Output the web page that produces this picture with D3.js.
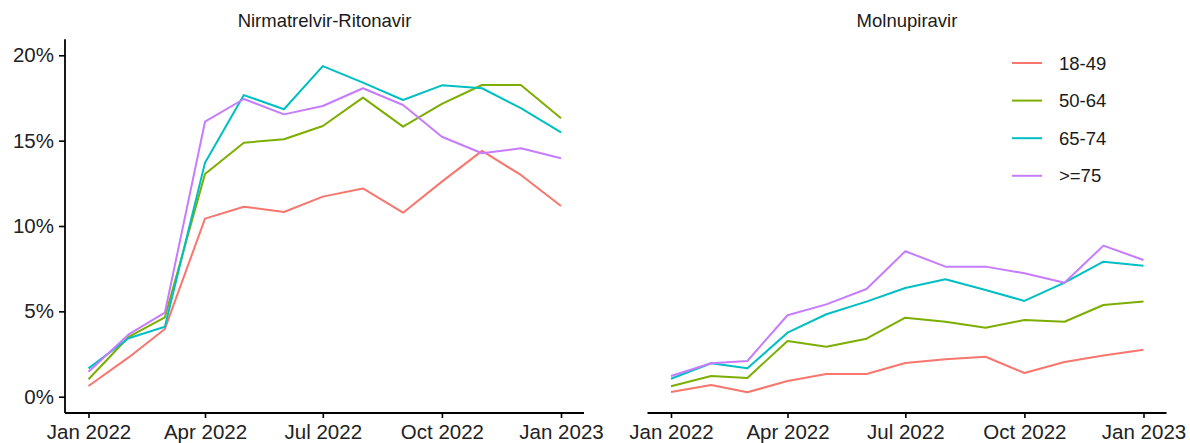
<!DOCTYPE html>
<html>
<head>
<meta charset="UTF-8">
<title>Antiviral use by age group</title>
<style>
body { margin: 0; background: #fff; }
#canvas { width: 1190px; height: 443px; }
.axis path, .axis line { stroke: #000; }
.axis text { fill: #222; font-family: "Liberation Sans", Arial, sans-serif; }
</style>
<script src="https://cdn.jsdelivr.net/npm/d3@7"></script>
</head>
<body>
<div id="canvas"></div>
<script>
// months (first of each month)
var months = ["2022-01-01","2022-02-01","2022-03-01","2022-04-01","2022-05-01","2022-06-01",
              "2022-07-01","2022-08-01","2022-09-01","2022-10-01","2022-11-01","2022-12-01","2023-01-01"];
var groups = ["18-49", "50-64", "65-74", ">=75"];
var colors = ["#F8766D", "#7CAE00", "#00BFC4", "#C77CFF"];
var panelTitles = ["Nirmatrelvir-Ritonavir", "Molnupiravir"];
var yTicks = [0, 5, 10, 15, 20];
var xTicks = ["2022-01-01", "2022-04-01", "2022-07-01", "2022-10-01", "2023-01-01"];

// percent of patients, Nirmatrelvir-Ritonavir
var nirm1849 = [0.63, 2.3, 3.97, 10.43, 11.13, 10.82, 11.72, 12.2, 10.78, 12.6, 14.4, 12.99, 11.17];
var nirm5064 = [1.02, 3.5, 4.65, 13.05, 14.88, 15.08, 15.86, 17.52, 15.82, 17.15, 18.26, 18.26, 16.31];
var nirm6574 = [1.66, 3.42, 4.1, 13.71, 17.67, 16.84, 19.37, 18.4, 17.38, 18.24, 18.07, 16.9, 15.49];
var nirm75 = [1.46, 3.65, 4.92, 16.11, 17.44, 16.54, 17.03, 18.07, 17.09, 15.23, 14.26, 14.55, 13.97];

// percent of patients, Molnupiravir
var moln1849 = [0.28, 0.69, 0.26, 0.92, 1.33, 1.33, 1.97, 2.19, 2.34, 1.39, 2.03, 2.42, 2.75];
var moln5064 = [0.61, 1.21, 1.1, 3.26, 2.93, 3.4, 4.63, 4.39, 4.04, 4.49, 4.39, 5.37, 5.57];
var moln6574 = [1.05, 1.96, 1.66, 3.75, 4.83, 5.57, 6.37, 6.88, 6.25, 5.61, 6.68, 7.91, 7.67];
var moln75 = [1.21, 1.96, 2.09, 4.77, 5.41, 6.31, 8.52, 7.62, 7.62, 7.23, 6.68, 8.85, 8.01];

var panels = [
  [nirm1849, nirm5064, nirm6574, nirm75],
  [moln1849, moln5064, moln6574, moln75]
];

var width = 1190, height = 443;
var panelWidth = 519;
var panelLeft = [65, 647.5];
var axisY = 413;

var parse = d3.utcParse("%Y-%m-%d");
var dates = months.map(parse);

var svg = d3.select("#canvas").append("svg")
    .attr("width", width)
    .attr("height", height);

var x = d3.scaleUtc()
    .domain([parse(months[0]), parse(months[months.length - 1])])
    .range([23.5, panelWidth - 23]);

var y = d3.scaleLinear()
    .domain([0, 20])
    .range([396.7, 55.3]);

var line = d3.line()
    .x(function(d) { return x(d.date); })
    .y(function(d) { return y(d.value); });

panels.forEach(function(series, p) {
  var g = svg.append("g")
      .attr("transform", "translate(" + panelLeft[p] + ",0)");

  g.append("text")
      .attr("x", panelWidth / 2)
      .attr("y", 27)
      .attr("text-anchor", "middle")
      .style("font-family", "'Liberation Sans', Arial, sans-serif")
      .style("font-size", "18.5px")
      .style("fill", "#1a1a1a")
      .text(panelTitles[p]);

  series.forEach(function(vals, i) {
    var pts = vals.map(function(v, j) { return {date: dates[j], value: v}; });
    g.append("path")
        .datum(pts)
        .attr("fill", "none")
        .attr("stroke", colors[i])
        .attr("stroke-width", 2)
        .attr("stroke-linejoin", "round")
        .attr("d", line);
  });

  var xAxis = g.append("g")
      .attr("class", "axis")
      .attr("transform", "translate(0," + axisY + ")")
      .call(d3.axisBottom(x)
          .tickValues(xTicks.map(parse))
          .tickFormat(d3.utcFormat("%b %Y"))
          .tickSizeInner(5)
          .tickSizeOuter(0)
          .tickPadding(6));
  xAxis.select(".domain").attr("d", "M0,0H" + panelWidth).attr("stroke-width", 1.8);
  xAxis.selectAll(".tick line").attr("stroke-width", 1.6);
  xAxis.selectAll("text").style("font-size", "20.5px");

  if (p === 0) {
    var yAxis = g.append("g")
        .attr("class", "axis")
        .call(d3.axisLeft(y)
            .tickValues(yTicks)
            .tickFormat(function(d) { return d + "%"; })
            .tickSizeInner(6)
            .tickSizeOuter(0)
            .tickPadding(5));
    yAxis.select(".domain").attr("d", "M0,39.3V" + axisY).attr("stroke-width", 1.8);
    yAxis.selectAll(".tick line").attr("stroke-width", 1.6);
    yAxis.selectAll("text").style("font-size", "20.5px");
  }
});

// legend
var legend = svg.append("g")
    .attr("transform", "translate(1012,63)");

groups.forEach(function(name, i) {
  var row = legend.append("g")
      .attr("transform", "translate(0," + (i * 37.6) + ")");
  row.append("line")
      .attr("x1", 0).attr("x2", 30)
      .attr("stroke", colors[i])
      .attr("stroke-width", 2);
  row.append("text")
      .attr("x", 47)
      .attr("dy", "0.36em")
      .style("font-family", "'Liberation Sans', Arial, sans-serif")
      .style("font-size", "18.5px")
      .style("fill", "#1a1a1a")
      .text(name);
});
</script>
</body>
</html>
